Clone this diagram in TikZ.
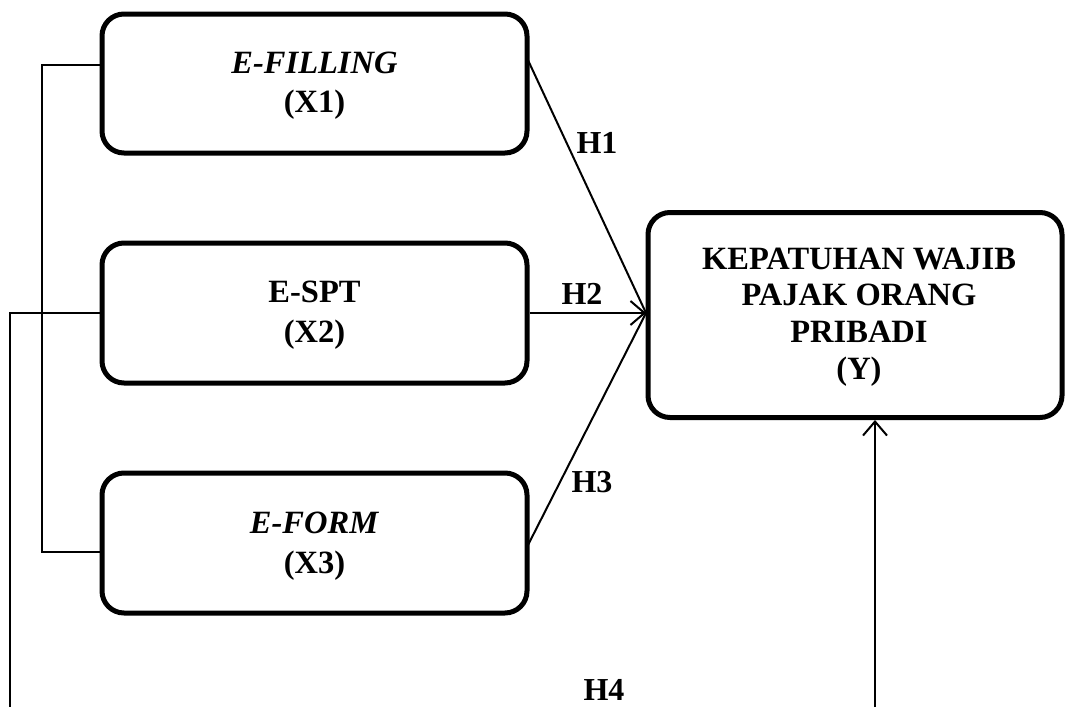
\documentclass[tikz,border=0pt]{standalone}
\usepackage{fontspec}
\setmainfont{Liberation Serif}
\usetikzlibrary{arrows.meta}
\tikzset{
  box/.style={draw, line width=5pt, rounded corners=22pt, inner sep=0pt},
  txt/.style={align=center, inner sep=0pt, font=\fontsize{32.5}{39.5}\selectfont\bfseries},
  link/.style={line width=2pt},
  lab/.style={font=\fontsize{32}{36}\selectfont\bfseries, inner sep=0pt},
  tip/.style={-{Straight Barb[length=14pt,width=24pt,line width=2pt]}}
}
\begin{document}
\begin{tikzpicture}[x=1pt,y=-1pt]
\useasboundingbox (0,0) rectangle (1065,707);
\node[box, minimum width=425pt, minimum height=139pt] (x1) at (314.5,83.5) {};
\node[box, minimum width=425pt, minimum height=140pt] (x2) at (314.5,313) {};
\node[box, minimum width=425pt, minimum height=140pt] (x3) at (314.5,543) {};
\node[box, minimum width=414pt, minimum height=205pt] (y) at (855,315) {};
\node[txt] (x1t) at (x1.center) [yshift=-2pt] {\textit{E-FILLING}\\(X1)};
\node[txt] (x2t) at (x2.center) [yshift=-2pt] {E-SPT\\(X2)};
\node[txt] (x3t) at (x3.center) [yshift=-3pt] {\textit{E-FORM}\\(X3)};
\node[txt, font=\fontsize{32.5}{36.8}\selectfont\bfseries] (yt) at (y.center) [xshift=4pt, yshift=-2pt] {KEPATUHAN WAJIB\\PAJAK ORANG\\PRIBADI\\(Y)};
% coordinates
\coordinate (b1) at (42,65);
\coordinate (b3) at (42,552);
\coordinate (c2) at (10,313);
\coordinate (c2b) at (10,707);
\coordinate (s1) at (527,58);
\coordinate (s3) at (527,547);
\coordinate (t) at (646,313);
\coordinate (bot) at (875,707);
% left bracket
\draw[link] (x1.west |- b1) -- (b1) -- (b3) -- (x3.west |- b3);
\draw[link] (x2.west |- c2) -- (c2) -- (c2b);
% hypotheses
\draw[link] (s1) -- (t);
\draw[link, tip] (x2.east |- t) -- (t);
\draw[link] (s3) -- (t);
\draw[link, tip] (bot) -- (bot |- y.south);
% labels
\node[lab] (h1) at (597,143) {H1};
\node[lab] (h2) at (582,294) {H2};
\node[lab] (h3) at (592,482) {H3};
\node[lab] (h4) at (604,690) {H4};
\end{tikzpicture}
\end{document}
